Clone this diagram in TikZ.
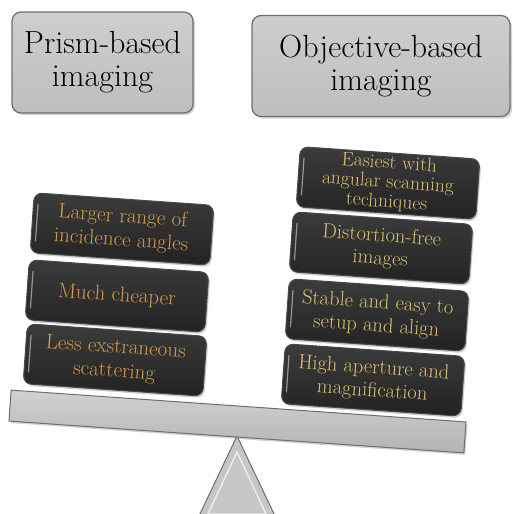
\documentclass[tikz,border=0pt]{standalone}
\usetikzlibrary{shadows,calc}
\definecolor{hdrfill}{HTML}{C8C8C8}
\definecolor{hdredge}{HTML}{6E6E6E}
\definecolor{darkbox}{HTML}{2B2B2B}
\definecolor{darkedge}{HTML}{4A4A4A}
\definecolor{goldL}{HTML}{D39D4C}
\definecolor{goldR}{HTML}{D9C271}
\definecolor{beamfill}{HTML}{C6C6C6}
\tikzset{
  header/.style={draw=hdredge, line width=1.2pt, rounded corners=9pt,
    top color=hdrfill!90!white, bottom color=hdrfill!95!black,
    minimum height=101pt, align=center, font=\fontsize{32}{33}\selectfont,
    drop shadow={shadow xshift=2pt, shadow yshift=-2pt, opacity=0.35}},
  pill/.style={draw=darkedge, line width=1pt, rounded corners=8pt,
    top color=darkbox!80!gray, bottom color=darkbox!80!black,
    minimum width=180pt, minimum height=60pt, align=center, rotate=-4,
    inner sep=2pt, font=\fontsize{21}{24}\selectfont,
    drop shadow={shadow xshift=1.5pt, shadow yshift=-2pt, opacity=0.4}},
  pillL/.style={pill, text=goldL},
  pillR/.style={pill, text=goldR, font=\fontsize{20.5}{23}\selectfont},
  pillRs/.style={pillR, font=\fontsize{19.5}{19.5}\selectfont},
  hilite/.style={white!70!gray, line width=1.2pt, line cap=round, opacity=0.6},
}
\begin{document}
\begin{tikzpicture}[x=1pt,y=-1pt]
\useasboundingbox (0,0) rectangle (512,514);
% headers
\node[header, minimum width=181pt] (prism) at (102.5,62.5) {Prism-based\\imaging};
\node[header, minimum width=258pt] (obj) at (381,66) {Objective-based\\imaging};
% fulcrum
\draw[hdredge, line width=1pt, fill=beamfill] (237,436) -- (275,516) -- (199,516) -- cycle;
\draw[white!85!gray, line width=1.5pt] (237,452) -- (266,514) -- (208,514) -- cycle;
% beam
\node[draw=hdredge, line width=1pt, rotate=-4, minimum width=456pt, minimum height=31pt,
  top color=beamfill!80!white, bottom color=beamfill!90!black,
  drop shadow={shadow xshift=1.5pt, shadow yshift=-2pt, opacity=0.35}] (beam) at (237.5,421.5) {};
% left pills
\node[pillL] (l1) at (122,229) {Larger range of\\incidence angles};
\node[pillL] (l2) at (117,296) {Much cheaper};
\node[pillL] (l3) at (115,360) {Less exstraneous\\scattering};
% right pills
\node[pillRs] (r1) at (388,183) {Easiest with\\angular scanning\\techniques};
\node[pillR] (r2) at (381,248) {Distortion-free\\images};
\node[pillR] (r3) at (377,315) {Stable and easy to\\setup and align};
\node[pillR] (r4) at (373,380) {High aperture and\\magnification};
% left-edge highlights on the dark boxes
\foreach \n in {l1,l2,l3,r1,r2,r3,r4}{
  \draw[hilite] ($(\n.north west)!0.2!(\n.south west)+(5pt,0)$) -- ($(\n.north west)!0.8!(\n.south west)+(5pt,0)$);
}
\end{tikzpicture}
\end{document}
